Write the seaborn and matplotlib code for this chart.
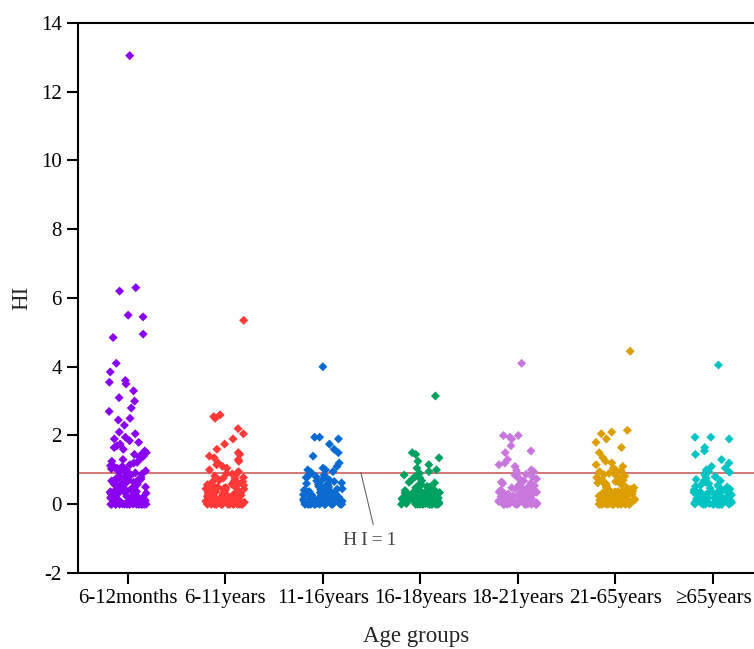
import numpy as np
import pandas as pd
import matplotlib.pyplot as plt
import seaborn as sns

# HI values per age group
months_6_12 = [13.05, 6.3, 6.2, 5.5, 5.45, 4.95, 4.85, 4.1, 3.85, 3.6, 3.55, 3.5, 3.3,
               3.1, 3.0, 2.8, 2.7, 2.5, 2.45, 2.3, 2.1, 2.05, 1.95, 1.9, 1.85, 1.8, 1.75,
               1.7, 1.6, 1.55, 1.5, 1.45, 1.4, 1.35, 1.3, 1.25, 1.2, 1.15, 1.1, 1.05, 1.0,
               1.0, 0.95, 0.95, 0.9, 0.88, 0.85, 0.82, 0.8, 0.78, 0.75, 0.72, 0.7, 0.68,
               0.65, 0.62, 0.6, 0.58, 0.55, 0.52, 0.5, 0.48, 0.45, 0.43, 0.4, 0.38, 0.36,
               0.34, 0.32, 0.3, 0.28, 0.26, 0.25, 0.23, 0.22, 0.2, 0.19, 0.18, 0.16, 0.15,
               0.14, 0.13, 0.12, 0.11, 0.1, 0.09, 0.08, 0.07, 0.06, 0.05, 0.05, 0.04, 0.03,
               0.03, 0.02, 0.02, 0.01, 0.01, 0.0, 0.0, 0.0, 0.0, 0.0, 0.0, 0.0, 0.0, 0.0,
               0.0, 0.0, 0.0, 0.85, 0.7, 0.55, 0.4, 0.3, 0.2, 0.1, 0.6, 0.45, 0.35, 0.25,
               0.15, 0.05, 0.92, 0.77, 0.64, 0.5, 0.33, 0.17, 1.12, 1.03, 0.97, 0.87, 0.73,
               0.57, 0.42, 0.27, 0.12, 0.04, 0.0, 0.0, 0.0, 1.22, 1.08, 0.91, 0.79, 0.66,
               0.53, 0.37, 0.21, 0.07, 0.0, 0.0, 1.65, 1.48, 1.38]
years_6_11 = [5.35, 2.6, 2.55, 2.5, 2.2, 2.05, 1.9, 1.75, 1.6, 1.5, 1.45, 1.4, 1.35,
              1.3, 1.25, 1.2, 1.15, 1.1, 1.05, 1.0, 0.95, 0.9, 0.86, 0.82, 0.78, 0.74,
              0.7, 0.66, 0.62, 0.6, 0.57, 0.54, 0.52, 0.5, 0.48, 0.46, 0.44, 0.42, 0.4,
              0.38, 0.36, 0.34, 0.32, 0.3, 0.29, 0.28, 0.26, 0.25, 0.24, 0.22, 0.21, 0.2,
              0.19, 0.18, 0.17, 0.16, 0.15, 0.14, 0.13, 0.12, 0.11, 0.1, 0.09, 0.08, 0.07,
              0.06, 0.05, 0.05, 0.04, 0.04, 0.03, 0.03, 0.02, 0.02, 0.01, 0.01, 0.0, 0.0,
              0.0, 0.0, 0.0, 0.0, 0.0, 0.0, 0.0, 0.0, 0.0, 0.0, 0.45, 0.35, 0.27, 0.2,
              0.12, 0.06, 0.55, 0.4, 0.3, 0.15, 0.08, 0.02, 0.65, 0.33, 0.23, 0.1, 0.88,
              0.76, 0.58, 0.43, 0.31, 0.19, 0.07, 0.0, 0.0, 0.5, 0.37, 0.26, 0.14, 0.04,
              0.0, 0.0, 0.68, 0.47]
years_11_16 = [4.0, 1.95, 1.95, 1.9, 1.75, 1.6, 1.5, 1.4, 1.2, 1.1, 1.05, 1.0, 1.0,
               0.95, 0.9, 0.85, 0.82, 0.78, 0.75, 0.72, 0.7, 0.66, 0.62, 0.6, 0.57, 0.54,
               0.5, 0.48, 0.46, 0.44, 0.42, 0.4, 0.38, 0.36, 0.34, 0.32, 0.3, 0.28, 0.27,
               0.26, 0.24, 0.23, 0.22, 0.2, 0.19, 0.18, 0.17, 0.16, 0.15, 0.14, 0.13, 0.12,
               0.11, 0.1, 0.09, 0.08, 0.07, 0.06, 0.05, 0.05, 0.04, 0.03, 0.03, 0.02, 0.02,
               0.01, 0.01, 0.0, 0.0, 0.0, 0.0, 0.0, 0.0, 0.0, 0.0, 0.0, 0.0, 0.35, 0.25,
               0.15, 0.08, 0.45, 0.3, 0.2, 0.1, 0.04, 0.55, 0.12, 0.92, 0.8, 0.68, 0.52,
               0.41, 0.33, 0.24, 0.16, 0.09, 0.03, 0.0, 0.0, 0.0, 0.58, 0.37, 0.21, 0.11]
years_16_18 = [3.15, 1.5, 1.45, 1.35, 1.25, 1.15, 1.05, 1.0, 0.95, 0.9, 0.85, 0.8,
               0.76, 0.72, 0.68, 0.64, 0.6, 0.56, 0.52, 0.5, 0.47, 0.44, 0.42, 0.4, 0.38,
               0.36, 0.34, 0.32, 0.3, 0.3, 0.28, 0.27, 0.26, 0.25, 0.24, 0.22, 0.21, 0.2,
               0.19, 0.18, 0.17, 0.16, 0.15, 0.14, 0.13, 0.12, 0.11, 0.1, 0.09, 0.08, 0.07,
               0.06, 0.05, 0.05, 0.04, 0.03, 0.03, 0.02, 0.02, 0.01, 0.01, 0.0, 0.0, 0.0,
               0.0, 0.0, 0.0, 0.0, 0.0, 0.0, 0.33, 0.29, 0.23, 0.18, 0.12, 0.06, 0.4, 0.1,
               0.31, 0.27, 0.22, 0.15, 0.08, 0.03, 0.0, 0.0, 0.62, 0.48, 0.36, 0.26, 0.14,
               0.05, 0.0, 0.35, 0.2]
years_18_21 = [4.1, 2.0, 2.0, 1.95, 1.9, 1.7, 1.55, 1.5, 1.3, 1.2, 1.15, 1.1, 1.0,
               0.95, 0.9, 0.85, 0.8, 0.76, 0.72, 0.68, 0.65, 0.62, 0.6, 0.57, 0.54, 0.5,
               0.48, 0.46, 0.44, 0.42, 0.4, 0.38, 0.36, 0.34, 0.32, 0.3, 0.28, 0.26, 0.25,
               0.24, 0.22, 0.21, 0.2, 0.19, 0.18, 0.17, 0.16, 0.15, 0.14, 0.13, 0.12, 0.11,
               0.1, 0.09, 0.08, 0.07, 0.06, 0.05, 0.05, 0.04, 0.03, 0.03, 0.02, 0.02, 0.01,
               0.01, 0.0, 0.0, 0.0, 0.0, 0.0, 0.0, 0.0, 0.0, 0.35, 0.25, 0.15, 0.08, 0.45,
               0.3, 0.2, 0.1, 0.98, 0.87, 0.74, 0.63, 0.52, 0.41, 0.31, 0.22, 0.13, 0.06,
               0.0, 0.0, 0.0, 0.56, 0.39, 0.27, 0.17]
years_21_65 = [4.45, 2.15, 2.1, 2.05, 1.9, 1.8, 1.65, 1.5, 1.35, 1.25, 1.2, 1.1, 1.05,
               1.0, 0.95, 0.9, 0.86, 0.82, 0.78, 0.74, 0.7, 0.66, 0.62, 0.6, 0.57, 0.54,
               0.5, 0.48, 0.46, 0.44, 0.42, 0.4, 0.38, 0.36, 0.34, 0.32, 0.3, 0.28, 0.27,
               0.26, 0.24, 0.23, 0.22, 0.2, 0.19, 0.18, 0.17, 0.16, 0.15, 0.14, 0.13, 0.12,
               0.11, 0.1, 0.09, 0.08, 0.07, 0.06, 0.05, 0.05, 0.04, 0.03, 0.03, 0.02, 0.02,
               0.01, 0.01, 0.0, 0.0, 0.0, 0.0, 0.0, 0.0, 0.0, 0.0, 0.0, 0.35, 0.25, 0.15,
               0.08, 0.45, 0.3, 0.2, 0.1, 0.04, 0.12, 1.15, 0.97, 0.84, 0.71, 0.58, 0.43,
               0.33, 0.24, 0.16, 0.07, 0.0, 0.0, 0.0, 0.52, 0.37, 0.22]
years_65_plus = [4.05, 1.95, 1.95, 1.9, 1.65, 1.55, 1.45, 1.3, 1.2, 1.1, 1.05, 1.0,
                 0.95, 0.9, 0.85, 0.8, 0.76, 0.72, 0.68, 0.64, 0.6, 0.56, 0.52, 0.5, 0.47,
                 0.44, 0.42, 0.4, 0.38, 0.36, 0.34, 0.32, 0.3, 0.28, 0.27, 0.26, 0.25,
                 0.24, 0.22, 0.21, 0.2, 0.19, 0.18, 0.17, 0.16, 0.15, 0.14, 0.13, 0.12,
                 0.11, 0.1, 0.09, 0.08, 0.07, 0.06, 0.05, 0.05, 0.04, 0.03, 0.03, 0.02,
                 0.02, 0.01, 0.01, 0.0, 0.0, 0.0, 0.0, 0.0, 0.0, 0.0, 0.0, 0.35, 0.29,
                 0.23, 0.18, 0.12, 0.06, 0.4, 0.1, 0.3, 0.2, 0.93, 0.81, 0.69, 0.55, 0.45,
                 0.33, 0.26, 0.17, 0.09, 0.02, 0.0, 0.0, 0.0, 0.5, 0.38, 0.28]

groups = ["6-12months", "6-11years", "11-16years", "16-18years",
          "18-21years", "21-65years", "≥65years"]
values = [months_6_12, years_6_11, years_11_16, years_16_18,
          years_18_21, years_21_65, years_65_plus]
colors = ["#8A00F0", "#FF3838", "#0A6ACF", "#00A060", "#C878DC", "#DC9E00", "#00C4C4"]

hi_line = 0.92

df = pd.DataFrame({
    "group": [g for g, v in zip(groups, values) for _ in v],
    "HI": [x for v in values for x in v],
})

sns.set_style("ticks")
plt.rcParams["font.family"] = ["Liberation Serif", "DejaVu Serif"]
plt.rcParams["axes.unicode_minus"] = False

np.random.seed(3)
fig = plt.figure(figsize=(7.54, 6.49), dpi=100)
ax = fig.add_axes([0.1034, 0.1171, 0.8966, 0.8475])

sns.stripplot(data=df, x="group", y="HI", hue="group", order=groups, hue_order=groups,
              palette=colors, marker="D", size=4.6, jitter=0.2, linewidth=0,
              legend=False, ax=ax)

ax.axhline(hi_line, color="#C85050", lw=1.1, zorder=0)
ax.annotate("H\u2009I\u2009=\u20091", xy=(2.39, hi_line), xytext=(2.48, -1.05),
            ha="center", va="center", fontsize=14, color="#444444",
            arrowprops=dict(arrowstyle="-", color="#666666", lw=0.8, shrinkB=0,
                            shrinkA=3, relpos=(0.6, 1.0)))

ax.set_ylim(-2, 14)
ax.set_yticks(range(-2, 15, 2))
ax.set_xlim(-0.51, 6.42)
ax.set_xlabel("Age groups", fontsize=16.5, labelpad=13)
ax.set_ylabel("HI", fontsize=16.5, labelpad=6)

for side in ["left", "bottom", "top"]:
    ax.spines[side].set_linewidth(1.5)
    ax.spines[side].set_color("black")
ax.spines["right"].set_visible(False)
ax.tick_params(axis="both", direction="out", length=8, width=1.5, labelsize=15,
               colors="black")

fig.savefig("out.png", dpi=100)
